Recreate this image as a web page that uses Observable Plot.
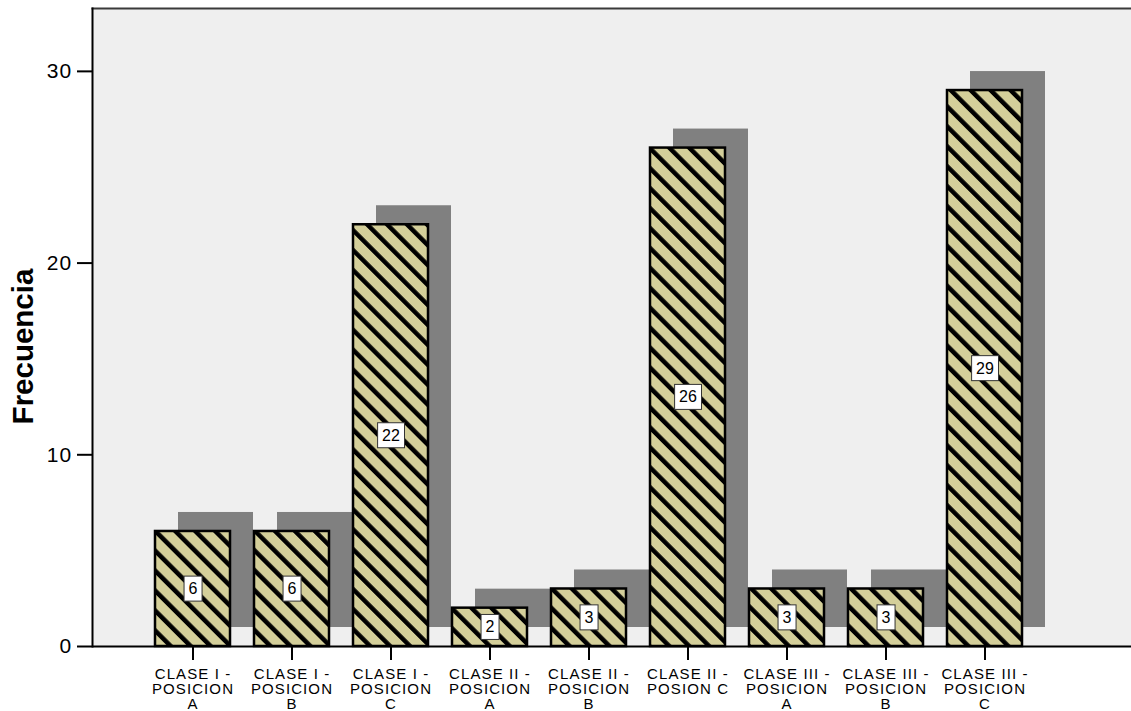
<!DOCTYPE html>
<html>
<head>
<meta charset="utf-8">
<script src="https://cdn.jsdelivr.net/npm/d3@7"></script>
<script src="https://cdn.jsdelivr.net/npm/@observablehq/plot@0.6"></script>
<style>
  html, body { margin: 0; padding: 0; background: #ffffff; }
  svg g[aria-label="x-axis tick label"] { letter-spacing: 1.1px; }
  svg g[aria-label="y-axis tick label"] { letter-spacing: 1.2px; }
</style>
</head>
<body>
<div id="chart"></div>
<script>
// Frequency of each class / position group
const categories = [
  "CLASE I - POSICION A", "CLASE I - POSICION B", "CLASE I - POSICION C",
  "CLASE II - POSICION A", "CLASE II - POSICION B", "CLASE II - POSION C",
  "CLASE III - POSICION A", "CLASE III - POSICION B", "CLASE III - POSICION C"
];
const frequencies = [6, 6, 22, 2, 3, 26, 3, 3, 29];
const tickLabels = [
  "CLASE I -\nPOSICION\nA", "CLASE I -\nPOSICION\nB", "CLASE I -\nPOSICION\nC",
  "CLASE II -\nPOSICION\nA", "CLASE II -\nPOSICION\nB", "CLASE II -\nPOSION C",
  "CLASE III -\nPOSICION\nA", "CLASE III -\nPOSICION\nB", "CLASE III -\nPOSICION\nC"
];
const yTicks = [0, 10, 20, 30];
const yTitle = "Frecuencia";

const data = categories.map((category, i) => ({category, value: frequencies[i]}));
const labelOf = new Map(categories.map((c, i) => [c, tickLabels[i]]));

const font = "'Liberation Sans', Arial, Helvetica, sans-serif";

const chart = Plot.plot({
  width: 1131,
  height: 711,
  marginLeft: 92,
  marginRight: 0,
  marginTop: 8,
  marginBottom: 65,
  style: {fontFamily: font, background: "#ffffff", color: "#000000"},
  x: {domain: categories, range: [128, 1048], padding: 0.246, label: null},
  y: {domain: [0, 33.28], label: null},
  marks: [
    // plot area background and its edges
    Plot.frame({fill: "#efefef", stroke: null}),
    Plot.frame({anchor: "top", stroke: "#3a3a3a", strokeWidth: 2}),
    // drop shadows behind the bars
    Plot.barY(data, {x: "category", y: "value", fill: "#808080", dx: 23, dy: -19}),
    // hatched bars
    Plot.barY(data, {x: "category", y: "value", fill: "url(#diag-hatch)", stroke: "#000000", strokeWidth: 2.5}),
    // axes
    Plot.axisY({ticks: yTicks, tickSize: 15, tickPadding: 5, fontSize: 21, strokeWidth: 2, label: null}),
    Plot.axisX({tickSize: 14, tickPadding: 8, fontSize: 15, lineHeight: 1.0, strokeWidth: 2,
                tickFormat: d => labelOf.get(d), label: null}),
    Plot.frame({anchor: "left", stroke: "#000000", strokeWidth: 2}),
    Plot.ruleY([0], {stroke: "#000000", strokeWidth: 2}),
    // value labels at mid-height of each bar
    Plot.text(data, {x: "category", y: d => d.value / 2, text: d => String(d.value),
                     fontSize: 16, fill: "#000000", ariaDescription: "value-labels"}),
    // y axis title
    Plot.text([yTitle], {frameAnchor: "left", textAnchor: "middle", rotate: -90, dx: -69, dy: 19,
                         fontSize: 29.5, fontWeight: "bold", fill: "#000000"})
  ]
});

document.getElementById("chart").append(chart);

// diagonal hatch pattern used as the bar fill
const svg = d3.select(chart);
const pattern = svg.insert("defs", ":first-child")
  .append("pattern")
  .attr("id", "diag-hatch")
  .attr("patternUnits", "userSpaceOnUse")
  .attr("width", 14.1)
  .attr("height", 14.1)
  .attr("patternTransform", "rotate(-45)");
pattern.append("rect").attr("width", 14.1).attr("height", 14.1).attr("fill", "#d4cf9a");
pattern.append("rect").attr("width", 4.5).attr("height", 14.1).attr("fill", "#000000");

// white boxes behind the value labels
const groups = Array.from(chart.querySelectorAll("g"));
const labelGroup = groups.find(g => g.getAttribute("aria-description") === "value-labels")
  || groups.find(g => g.getAttribute("aria-label") === "text");
const boxHeight = 25;
for (const text of Array.from(labelGroup.querySelectorAll("text"))) {
  const b = text.getBBox();
  const cy = b.y + b.height / 2;
  const rect = document.createElementNS("http://www.w3.org/2000/svg", "rect");
  const tr = text.getAttribute("transform");
  if (tr) rect.setAttribute("transform", tr);
  rect.setAttribute("x", b.x - 4.5);
  rect.setAttribute("y", cy - boxHeight / 2);
  rect.setAttribute("width", b.width + 9);
  rect.setAttribute("height", boxHeight);
  rect.setAttribute("fill", "#ffffff");
  rect.setAttribute("stroke", "#333333");
  rect.setAttribute("stroke-width", "1");
  labelGroup.insertBefore(rect, text);
}
</script>
</body>
</html>
